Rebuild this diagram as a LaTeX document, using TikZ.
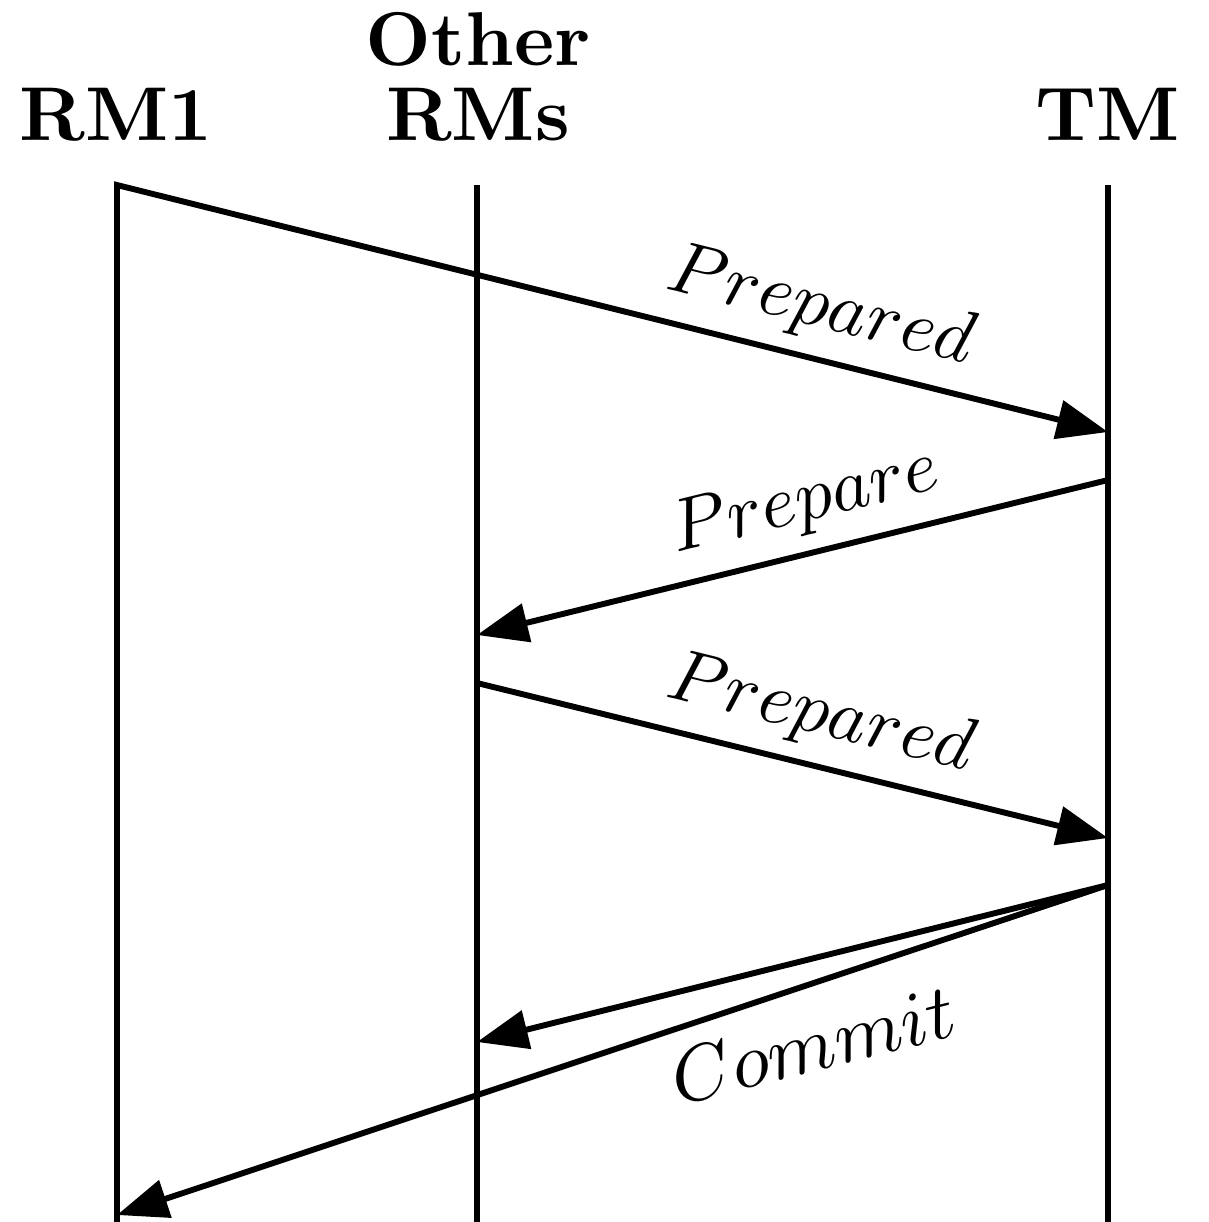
\documentclass[tikz,border=0pt]{standalone}
\usetikzlibrary{arrows.meta}
\begin{document}
\begin{tikzpicture}[x=0.1351pt,y=-0.1351pt,
  life/.style={line width=0.8pt},
  msg/.style={line width=0.8pt,line join=miter,-{Triangle[length=6.9pt,width=5.2pt]}},
  lbl/.style={sloped,above,inner sep=2pt},
  title/.style={font=\bfseries,scale=1.03,anchor=base,inner sep=0pt}]
\useasboundingbox (0,0) rectangle (1209,1222);
% lifeline ends
\coordinate (rm1t) at (117,185);  \coordinate (rm1b) at (117,1222);
\coordinate (ort)  at (477,185);  \coordinate (orb)  at (477,1222);
\coordinate (tmt)  at (1108,185); \coordinate (tmb)  at (1108,1222);
% message ends
\coordinate (tm1) at (1108,432);
\coordinate (tm2) at (1108,480);
\coordinate (or2) at (477,635);
\coordinate (or3) at (477,683);
\coordinate (tm3) at (1108,838);
\coordinate (tm4) at (1108,885);
\coordinate (or4) at (477,1042);
\coordinate (rm4) at (117,1215);
% titles
\node[title] (rm1) at (116,140) {RM1};
\node[title] (oth) at (478,65) {Other};
\node[title] (orm) at (478,140) {RMs};
\node[title] (tm)  at (1108,140) {TM};
% lifelines
\draw[life] (ort) -- (orb);
\draw[life] (tmt) -- (tmb);
% messages
\draw[msg] (rm1b) -- (rm1t) -- node[lbl,pos=0.698] (l1) {$Prepared$} (tm1);
\draw[msg] (tm2) -- node[lbl,pos=0.461] (l2) {$Prepare$} (or2);
\draw[msg] (or3) -- node[lbl,pos=0.526] (l3) {$Prepared$} (tm3);
\draw[msg] (tm4) -- node[sloped,below,scale=1.05,inner xsep=2pt,inner ysep=6.9pt,pos=0.5] (l4) {$Commit$} (or4);
\draw[msg] (tm4) -- (rm4);
\end{tikzpicture}
\end{document}
